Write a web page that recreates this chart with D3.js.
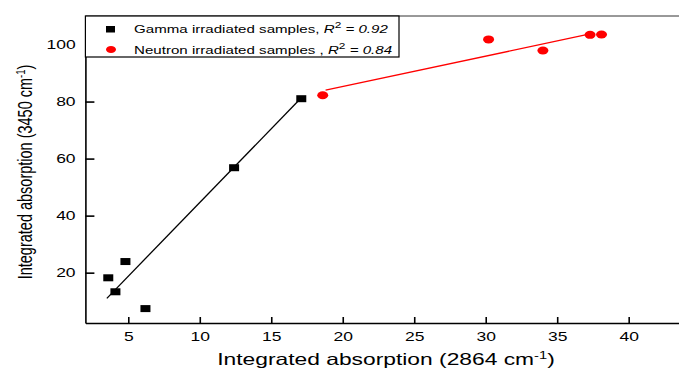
<!DOCTYPE html>
<html>
<head>
<meta charset="utf-8">
<script src="https://cdn.jsdelivr.net/npm/d3@7/dist/d3.min.js"></script>
<style>
  body { margin: 0; background: #fff; overflow: hidden; }
  svg { display: block; font-family: "Liberation Sans", Arial, sans-serif; }
</style>
</head>
<body>
<svg id="chart" width="679" height="369"></svg>
<script>
// Données
var gamma_x = [3.6, 4.1, 4.8, 6.2, 12.4, 17.1];
var gamma_y = [18.2, 13.3, 23.9, 7.4, 56.8, 81.0];
var neutron_x = [18.6, 30.2, 34.0, 37.3, 38.1];
var neutron_y = [82.2, 101.8, 97.9, 103.4, 103.5];

// droites de régression (extrémités)
var gamma_fit_x = [3.5, 17.0];
var gamma_fit_y = [11.0, 80.8];
var neutron_fit_x = [18.8, 37.3];
var neutron_fit_y = [84.0, 103.7];

var x_ticks = [5, 10, 15, 20, 25, 30, 35, 40];
var y_ticks = [20, 40, 60, 80, 100];

var legend_labels = ["Gamma irradiated samples, ", "Neutron irradiated samples , "];
var legend_r2 = ["0.92", "0.84"];

var x_title = "Integrated absorption (2864 cm";
var y_title = "Integrated absorption (3450 cm";

// l'image d'origine est étirée horizontalement
var stretch = 1.4;

var svg_1 = d3.select("#chart");

// le cadre est coupé au bord droit de l'image
var x = d3.scaleLinear().domain([2, 43.6]).range([85.4, 85.4 + 41.6 * 14.297]);
var y = d3.scaleLinear().domain([2.35, 110]).range([323, 16]);

// ligne du haut du cadre
svg_1.append("line")
    .attr("x1", x(2)).attr("x2", x(43.6))
    .attr("y1", y(110)).attr("y2", y(110))
    .attr("stroke", "#333").attr("stroke-width", 1);

// axes, ticks vers l'intérieur
var x_axis = svg_1.append("g")
    .attr("transform", "translate(0," + y(2.35) + ")")
    .call(d3.axisBottom(x).tickValues(x_ticks).tickSize(-6).tickSizeOuter(0).tickPadding(9));

var y_axis = svg_1.append("g")
    .attr("transform", "translate(" + x(2) + ",0)")
    .call(d3.axisLeft(y).tickValues(y_ticks).tickSize(-9).tickSizeOuter(0).tickPadding(7));

[x_axis, y_axis].forEach(function(ax){
    ax.select(".domain").attr("stroke", "#000").attr("stroke-width", 1.6);
    ax.selectAll(".tick line").attr("stroke", "#000").attr("stroke-width", 1.6);
    ax.selectAll(".tick text")
      .attr("fill", "#000")
      .style("font-size", "12.5px")
      .style("font-family", "'Liberation Sans', Arial, sans-serif")
      .attr("transform", "scale(" + stretch + ",1)");
});

// titres des axes
var xt = svg_1.append("text")
    .attr("transform", "translate(" + 386 + ",365) scale(" + stretch + ",1)")
    .attr("text-anchor", "middle")
    .style("font-size", "16.3px")
    .attr("fill", "#000")
    .text(x_title);
xt.append("tspan").attr("dy", -6).style("font-size", "10.5px").text("-1");
xt.append("tspan").attr("dy", 6).text(")");

var yt = svg_1.append("text")
    .attr("transform", "translate(31.5,172) scale(" + stretch + ",1) rotate(-90)")
    .attr("text-anchor", "middle")
    .style("font-size", "14.5px")
    .attr("fill", "#000")
    .text(y_title);
yt.append("tspan").attr("dy", -5).style("font-size", "9.5px").text("-1");
yt.append("tspan").attr("dy", 5).text(")");

// droites de régression
var line = d3.line().x(function(d){return x(d[0]);}).y(function(d){return y(d[1]);});

svg_1.append("path")
    .datum(d3.zip(gamma_fit_x, gamma_fit_y))
    .attr("d", line)
    .attr("fill", "none").attr("stroke", "#000").attr("stroke-width", 1.3);

svg_1.append("path")
    .datum(d3.zip(neutron_fit_x, neutron_fit_y))
    .attr("d", line)
    .attr("fill", "none").attr("stroke", "#ff0000").attr("stroke-width", 1.3);

// points gamma (carrés noirs, étirés)
svg_1.selectAll(".gamma")
    .data(d3.zip(gamma_x, gamma_y))
    .enter()
    .append("rect")
    .attr("class", "gamma")
    .attr("x", function(d){return x(d[0]) - 5;})
    .attr("y", function(d){return y(d[1]) - 3.5;})
    .attr("width", 10).attr("height", 7)
    .attr("fill", "#000");

// points neutron (cercles rouges, étirés)
svg_1.selectAll(".neutron")
    .data(d3.zip(neutron_x, neutron_y))
    .enter()
    .append("ellipse")
    .attr("class", "neutron")
    .attr("cx", function(d){return x(d[0]);})
    .attr("cy", function(d){return y(d[1]);})
    .attr("rx", 5.5).attr("ry", 4)
    .attr("fill", "#ff0000");

// légende
var legend = svg_1.append("g");
legend.append("rect")
    .attr("x", 85.4).attr("y", 16)
    .attr("width", 399 - 85.4).attr("height", 41)
    .attr("fill", "#fff").attr("stroke", "#000").attr("stroke-width", 1.2);

legend.append("rect")
    .attr("x", 106).attr("y", 26).attr("width", 9).attr("height", 6.5)
    .attr("fill", "#000");
legend.append("ellipse")
    .attr("cx", 111).attr("cy", 49.5).attr("rx", 5).attr("ry", 3.5)
    .attr("fill", "#ff0000");

var legend_y = [33, 54];
legend_labels.forEach(function(lbl, i){
    var t = legend.append("text")
        .attr("transform", "translate(134," + legend_y[i] + ") scale(" + stretch + ",1)")
        .style("font-size", "10.8px")
        .attr("fill", "#000")
        .text(lbl);
    t.append("tspan").style("font-style", "italic").text("R");
    t.append("tspan").attr("dy", -5).style("font-size", "8.5px").text("2");
    t.append("tspan").attr("dy", 5).style("font-style", "italic").text(" = " + legend_r2[i]);
});
</script>
</body>
</html>
